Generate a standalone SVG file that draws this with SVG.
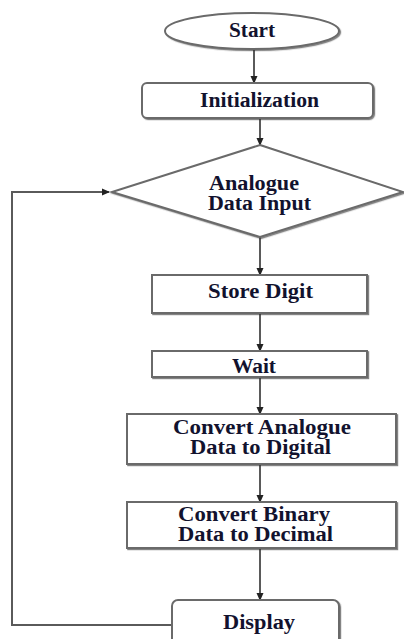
<svg xmlns="http://www.w3.org/2000/svg" width="404" height="639" viewBox="0 0 404 639">
<defs>
<marker id="arr" markerWidth="8" markerHeight="8" refX="7" refY="4" orient="auto" markerUnits="userSpaceOnUse">
<path d="M0,0.5 L8,4 L0,7.5 Z" fill="#222"/>
</marker>
<filter id="sh" x="-5%" y="-10%" width="115%" height="130%">
<feDropShadow dx="1.2" dy="1.2" stdDeviation="0.6" flood-color="#333" flood-opacity="0.6"/>
</filter>
</defs>
<style>
.box{fill:#fff;stroke:#6a6a6a;stroke-width:2;filter:url(#sh)}
.t{font-family:"Liberation Serif","Times New Roman",serif;font-weight:bold;font-size:20px;fill:#12122e;text-anchor:middle}
.c{fill:none;stroke:#5a5a5a;stroke-width:2}
</style>
<rect width="404" height="639" fill="#fff"/>
<g id="connectors">
<line class="c" x1="254" y1="50" x2="254" y2="83" marker-end="url(#arr)"/>
<line class="c" x1="260" y1="118" x2="260" y2="145" marker-end="url(#arr)"/>
<line class="c" x1="260" y1="237" x2="260" y2="275" marker-end="url(#arr)"/>
<line class="c" x1="260" y1="313" x2="260" y2="351" marker-end="url(#arr)"/>
<line class="c" x1="260" y1="377" x2="260" y2="414" marker-end="url(#arr)"/>
<line class="c" x1="260" y1="464" x2="260" y2="502" marker-end="url(#arr)"/>
<line class="c" x1="260" y1="548" x2="260" y2="600" marker-end="url(#arr)"/>
<polyline class="c" points="172,625 12,625 12,192 109,192" marker-end="url(#arr)"/>
</g>
<g id="start">
<ellipse class="box" cx="252" cy="31" rx="87" ry="18"/>
<text class="t" x="252" y="37" textLength="46" lengthAdjust="spacingAndGlyphs">Start</text>
</g>
<g id="init">
<rect class="box" x="142" y="83" width="231" height="35" rx="5"/>
<text class="t" x="259.5" y="107" textLength="119" lengthAdjust="spacingAndGlyphs">Initialization</text>
</g>
<g id="input">
<polygon class="box" points="260,145 403,192 260,237 112,192"/>
<text class="t" x="254" y="190" textLength="90" lengthAdjust="spacingAndGlyphs">Analogue</text>
<text class="t" x="259.5" y="210" textLength="103" lengthAdjust="spacingAndGlyphs">Data Input</text>
</g>
<g id="store">
<rect class="box" x="152" y="275" width="215" height="38"/>
<text class="t" x="260.5" y="298" textLength="105" lengthAdjust="spacingAndGlyphs">Store Digit</text>
</g>
<g id="wait">
<rect class="box" x="152" y="351" width="215" height="26"/>
<text class="t" x="254" y="373" textLength="44" lengthAdjust="spacingAndGlyphs">Wait</text>
</g>
<g id="adc">
<rect class="box" x="127" y="414" width="269" height="50"/>
<text class="t" x="262" y="434" textLength="178" lengthAdjust="spacingAndGlyphs">Convert Analogue</text>
<text class="t" x="260.5" y="454" textLength="141" lengthAdjust="spacingAndGlyphs">Data to Digital</text>
</g>
<g id="b2d">
<rect class="box" x="127" y="502" width="269" height="46"/>
<text class="t" x="254" y="521" textLength="152" lengthAdjust="spacingAndGlyphs">Convert Binary</text>
<text class="t" x="255.5" y="541" textLength="155" lengthAdjust="spacingAndGlyphs">Data to Decimal</text>
</g>
<g id="display">
<rect class="box" x="172" y="600" width="167" height="50" rx="6"/>
<text class="t" x="259" y="629" textLength="72" lengthAdjust="spacingAndGlyphs">Display</text>
</g>
</svg>
